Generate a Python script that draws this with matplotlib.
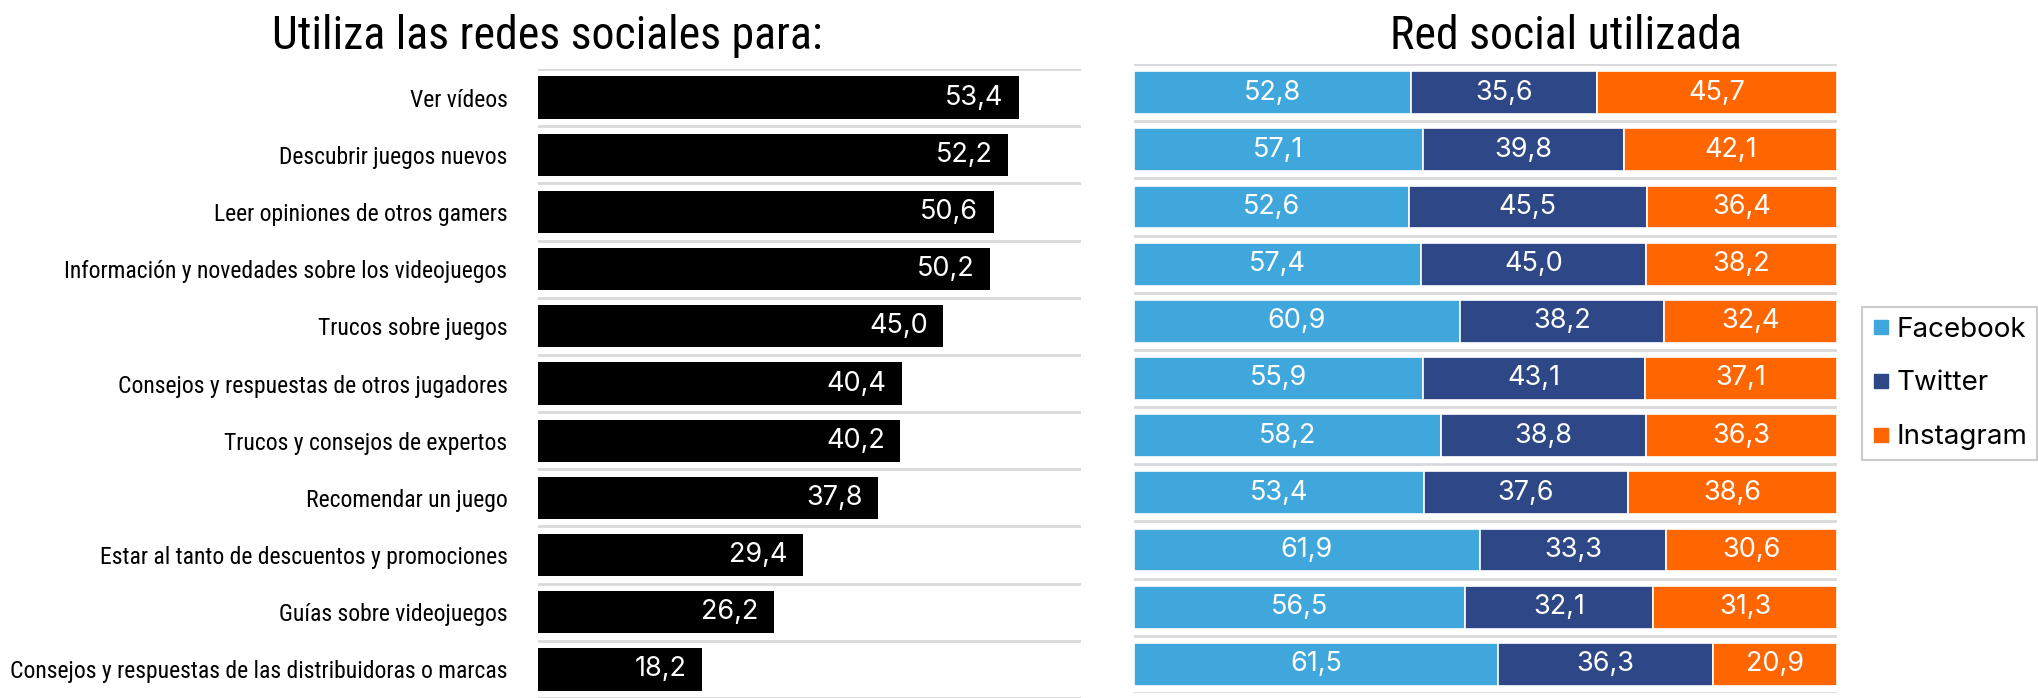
import matplotlib

matplotlib.use("Agg")
import matplotlib.pyplot as plt
from matplotlib import font_manager
from matplotlib.lines import Line2D
import numpy as np

# fuente estrecha para textos de categoria y titulos
_nombres = {f.name for f in font_manager.fontManager.ttflist}
if "Roboto Condensed" in _nombres:
    FAM = ["Roboto Condensed", "DejaVu Sans"]
else:
    FAM = ["Liberation Sans Narrow", "DejaVu Sans"]
plt.rcParams["font.family"] = FAM
FAM_NUM = ["Inter", "Open Sans", "DejaVu Sans"]

# datos
categorias = [
    "Ver vídeos",
    "Descubrir juegos nuevos",
    "Leer opiniones de otros gamers",
    "Información y novedades sobre los videojuegos",
    "Trucos sobre juegos",
    "Consejos y respuestas de otros jugadores",
    "Trucos y consejos de expertos",
    "Recomendar un juego",
    "Estar al tanto de descuentos y promociones",
    "Guías sobre videojuegos",
    "Consejos y respuestas de las distribuidoras o marcas",
]
uso = [53.4, 52.2, 50.6, 50.2, 45.0, 40.4, 40.2, 37.8, 29.4, 26.2, 18.2]

facebook = [52.8, 57.1, 52.6, 57.4, 60.9, 55.9, 58.2, 53.4, 61.9, 56.5, 61.5]
twitter = [35.6, 39.8, 45.5, 45.0, 38.2, 43.1, 38.8, 37.6, 33.3, 32.1, 36.3]
instagram = [45.7, 42.1, 36.4, 38.2, 32.4, 37.1, 36.3, 38.6, 30.6, 31.3, 20.9]

redes = ["Facebook", "Twitter", "Instagram"]
colores = ["#3FA7DB", "#2E4887", "#FF6600"]
GRIS = "#D9D9D9"


def _coma(v):
    return f"{v:.1f}".replace(".", ",")


def _rejilla(ax, n):
    ax.set_ylim(n - 0.5, -0.5)
    ax.set_yticks(np.arange(-0.5, n, 1.0), minor=True)
    ax.grid(axis="y", which="minor", color=GRIS, linewidth=2)
    ax.tick_params(axis="y", which="both", length=0)
    ax.set_xticks([])
    for s in ax.spines.values():
        s.set_visible(False)
    ax.set_axisbelow(True)


fig = plt.figure(figsize=(20.38, 6.98), dpi=100)
W, H = 2038, 698
alto = 629 / H

ax1 = fig.add_axes([538 / W, 1 - 69 / H - alto, (1081 - 538) / W, alto])
ax2 = fig.add_axes([1134 / W, 1 - 64 / H - alto, (1837 - 1134) / W, alto])

n = len(categorias)
y = np.arange(n)

# izquierda: barras negras
barras = ax1.barh(y, uso, height=0.74, color="black")
ax1.set_xlim(0, 60.3)
_rejilla(ax1, n)
ax1.set_yticks(y)
ax1.set_yticklabels(categorias, fontsize=17)
ax1.tick_params(axis="y", which="major", pad=22)
for b, v in zip(barras, uso):
    ax1.annotate(_coma(v), xy=(b.get_width(), b.get_y() + b.get_height() / 2),
                 xytext=(-11, 0), textcoords="offset points",
                 ha="right", va="center", color="white", fontsize=19.5,
                 family=FAM_NUM)

# derecha: 100% apilado
datos = np.array([facebook, twitter, instagram])
totales = datos.sum(axis=0)
izq = np.zeros(n)
for serie, color in zip(datos, colores):
    ancho = serie / totales * 100
    bb = ax2.barh(y, ancho, left=izq, height=0.75, color=color,
                  edgecolor="white", linewidth=1.2)
    for b, v in zip(bb, serie):
        ax2.text(b.get_x() + b.get_width() / 2, b.get_y() + b.get_height() / 2,
                 _coma(v), ha="center", va="center", color="white",
                 fontsize=19.5, family=FAM_NUM)
    izq += ancho
ax2.set_xlim(0, 100)
_rejilla(ax2, n)
ax2.set_yticks([])

fig.text(547 / W, 1 - 36 / H, "Utiliza las redes sociales para:", ha="center",
         va="center", fontsize=33)
fig.text(1566 / W, 1 - 36 / H, "Red social utilizada", ha="center",
         va="center", fontsize=33)

handles = [Line2D([], [], marker="s", linestyle="none", markersize=10,
                  markerfacecolor=c, markeredgecolor=c) for c in colores]
leg = fig.legend(handles, redes, loc="upper left",
                 bbox_to_anchor=(1862 / W, 1 - 307 / H),
                 prop={"family": FAM_NUM, "size": 20},
                 frameon=True, fancybox=False, labelspacing=1.0,
                 handlelength=0.7, handletextpad=0.2, borderpad=0.35,
                 borderaxespad=0)
leg.get_frame().set_edgecolor("#BFBFBF")
leg.get_frame().set_linewidth(1.5)

fig.savefig("out.png", dpi=100)
